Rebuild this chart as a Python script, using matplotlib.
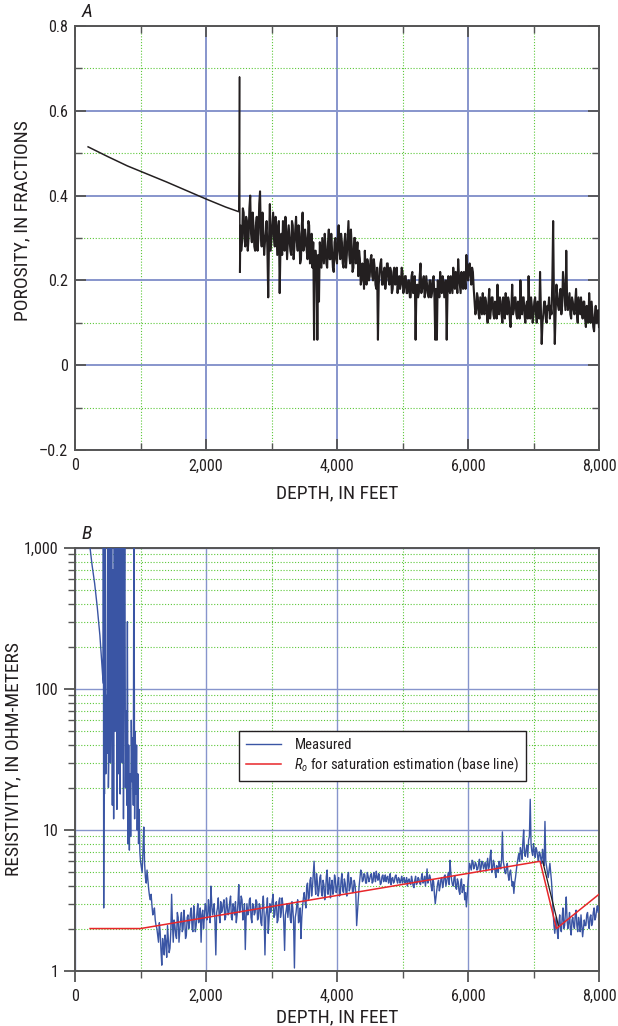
import numpy as np
import matplotlib
matplotlib.use("Agg")
import matplotlib.pyplot as plt
from matplotlib import font_manager
from matplotlib.ticker import FixedLocator, FixedFormatter, NullFormatter

# ---------------- data ----------------
# Panel A: porosity
por_depth_upper = [200, 500, 800, 1100, 1400, 1700, 2000, 2300, 2500, 2508, 2512, 2518]
por_upper = [0.515, 0.492, 0.470, 0.451, 0.432, 0.412, 0.392, 0.373, 0.362, 0.52, 0.68, 0.22]
por_depth_log = np.arange(2525, 8001, 25)
por_log = [
    0.33, 0.29, 0.36, 0.28, 0.34, 0.30, 0.40, 0.29, 0.33, 0.27,
    0.35, 0.30, 0.41, 0.28, 0.32, 0.29, 0.34, 0.16, 0.38, 0.30,
    0.36, 0.28, 0.33, 0.30, 0.17, 0.31, 0.34, 0.27, 0.32, 0.29,
    0.30, 0.26, 0.33, 0.28, 0.35, 0.27, 0.31, 0.25, 0.36, 0.28,
    0.30, 0.25, 0.33, 0.27, 0.23, 0.06, 0.27, 0.06, 0.15, 0.26,
    0.30, 0.24, 0.28, 0.23, 0.32, 0.25, 0.27, 0.22, 0.30, 0.24,
    0.33, 0.25, 0.29, 0.23, 0.31, 0.26, 0.34, 0.24, 0.28, 0.23,
    0.30, 0.26, 0.21, 0.25, 0.20, 0.23, 0.27, 0.19, 0.24, 0.21,
    0.26, 0.20, 0.23, 0.18, 0.06, 0.22, 0.25, 0.19, 0.23, 0.20,
    0.24, 0.19, 0.22, 0.18, 0.23, 0.20, 0.17, 0.21, 0.19, 0.22,
    0.18, 0.21, 0.17, 0.20, 0.16, 0.22, 0.18, 0.06, 0.19, 0.17,
    0.24, 0.18, 0.21, 0.17, 0.19, 0.16, 0.20, 0.17, 0.21, 0.06,
    0.06, 0.19, 0.22, 0.17, 0.20, 0.18, 0.06, 0.21, 0.17, 0.19,
    0.23, 0.18, 0.20, 0.25, 0.19, 0.22, 0.18, 0.21, 0.26, 0.20,
    0.24, 0.19, 0.22, 0.15, 0.13, 0.16, 0.11, 0.14, 0.17, 0.12,
    0.15, 0.10, 0.18, 0.13, 0.16, 0.11, 0.14, 0.19, 0.12, 0.15,
    0.10, 0.14, 0.17, 0.12, 0.15, 0.09, 0.19, 0.13, 0.16, 0.11,
    0.14, 0.20, 0.12, 0.16, 0.10, 0.15, 0.21, 0.11, 0.14, 0.12,
    0.16, 0.10, 0.13, 0.22, 0.05, 0.12, 0.15, 0.10, 0.13, 0.11,
    0.12, 0.34, 0.05, 0.19, 0.14, 0.17, 0.12, 0.22, 0.16, 0.27,
    0.13, 0.17, 0.11, 0.15, 0.12, 0.18, 0.10, 0.14, 0.16, 0.11,
    0.15, 0.09, 0.13, 0.17, 0.10, 0.12, 0.08, 0.14, 0.11, 0.09,
]
por_depth_mid = np.arange(2537.5, 8000, 25)
por_mid = [
    0.27, 0.37, 0.30, 0.35, 0.27, 0.37, 0.31, 0.36, 0.28, 0.33,
    0.27, 0.38, 0.31, 0.36, 0.26, 0.31, 0.27, 0.30, 0.27, 0.33,
    0.30, 0.35, 0.26, 0.34, 0.28, 0.26, 0.30, 0.35, 0.25, 0.33,
    0.27, 0.34, 0.25, 0.32, 0.29, 0.33, 0.24, 0.33, 0.27, 0.32,
    0.27, 0.34, 0.24, 0.31, 0.29, 0.27, 0.24, 0.26, 0.29, 0.23,
    0.27, 0.31, 0.24, 0.29, 0.25, 0.31, 0.23, 0.29, 0.25, 0.30,
    0.27, 0.31, 0.24, 0.29, 0.23, 0.30, 0.26, 0.32, 0.22, 0.30,
    0.24, 0.29, 0.27, 0.19, 0.24, 0.18, 0.22, 0.25, 0.20, 0.25,
    0.21, 0.25, 0.19, 0.23, 0.19, 0.24, 0.19, 0.22, 0.18, 0.24,
    0.20, 0.23, 0.17, 0.22, 0.19, 0.23, 0.20, 0.18, 0.23, 0.17,
    0.21, 0.17, 0.20, 0.16, 0.21, 0.17, 0.21, 0.18, 0.16, 0.21,
    0.17, 0.20, 0.16, 0.21, 0.17, 0.20, 0.16, 0.20, 0.16, 0.18,
    0.20, 0.16, 0.19, 0.21, 0.16, 0.20, 0.17, 0.18, 0.21, 0.17,
    0.20, 0.22, 0.17, 0.21, 0.17, 0.19, 0.22, 0.18, 0.22, 0.23,
    0.21, 0.23, 0.18, 0.12, 0.17, 0.12, 0.16, 0.12, 0.13, 0.16,
    0.12, 0.15, 0.11, 0.16, 0.12, 0.15, 0.11, 0.14, 0.16, 0.12,
    0.16, 0.11, 0.13, 0.16, 0.11, 0.14, 0.12, 0.16, 0.12, 0.15,
    0.11, 0.14, 0.16, 0.12, 0.14, 0.11, 0.13, 0.16, 0.10, 0.15,
    0.12, 0.15, 0.11, 0.14, 0.10, 0.15, 0.11, 0.14, 0.16, 0.14,
    0.20, 0.15, 0.12, 0.16, 0.13, 0.18, 0.14, 0.19, 0.13, 0.16,
    0.15, 0.12, 0.16, 0.13, 0.15, 0.12, 0.16, 0.12, 0.13, 0.15,
    0.11, 0.14, 0.10, 0.13, 0.15, 0.09, 0.12, 0.10, 0.13,
]

# Panel B: resistivity (measured)
res_depth_upper = [
    200, 230, 260, 300, 340, 380, 415, 430, 433, 438,
    445, 450, 460, 470, 480, 490, 500, 510, 520, 530,
    540, 550, 560, 570, 580, 590, 600, 610, 620, 630,
    640, 650, 660, 670, 680, 690, 700, 710, 720, 730,
    740, 750, 760, 770, 780, 790, 800, 810, 820, 830,
    840, 850, 860, 870, 880, 890, 900, 910, 920, 930,
    940, 950, 960, 970, 980, 990,
]
res_upper = [
    1500, 1000, 760, 560, 380, 240, 140, 110, 3000, 2.8,
    40, 18, 3000, 25, 90, 35, 3000, 20, 45, 3000,
    30, 80, 3000, 15, 700, 12, 3000, 50, 200, 3000,
    14, 400, 3000, 25, 3000, 18, 600, 3000, 30, 3000,
    12, 250, 3000, 20, 70, 15, 300, 8, 40, 7.2,
    25, 9, 60, 22, 45, 15, 3000, 12, 50, 18,
    40, 10, 25, 8, 14, 7,
]
res_depth_log = np.arange(1000, 8001, 25)
res_log = [
    6.0, 5.0, 10.5, 4.6, 5.2, 3.8, 3.2, 2.9, 2.6, 2.3,
    2.0, 1.6, 1.9, 1.1, 1.5, 1.8, 1.25, 1.7, 1.45, 3.5,
    1.6, 2.1, 1.7, 2.4, 1.9, 2.6, 2.0, 2.3, 1.8, 2.5,
    2.2, 2.8, 1.9, 2.5, 2.1, 3.0, 2.3, 1.6, 2.7, 2.4,
    2.9, 2.4, 2.7, 4.0, 2.5, 3.0, 1.3, 2.8, 2.5, 3.1,
    2.7, 3.2, 2.4, 2.9, 2.6, 3.4, 2.3, 2.8, 3.1, 2.5,
    4.1, 2.8, 3.2, 2.5, 1.42, 3.0, 2.6, 3.3, 2.2, 2.9,
    2.6, 3.1, 2.4, 2.9, 2.1, 3.4, 1.3, 2.7, 1.85, 3.0,
    2.8, 3.5, 2.5, 3.1, 2.3, 3.3, 2.6, 2.9, 1.4, 2.7,
    2.4, 3.0, 2.2, 2.8, 1.05, 2.6, 3.2, 2.3, 1.7, 2.9,
    3.6, 2.8, 4.2, 3.3, 4.6, 3.9, 6.0, 3.5, 4.3, 3.7,
    4.8, 3.4, 4.1, 3.6, 5.2, 3.9, 3.3, 4.4, 3.7, 4.5,
    3.8, 4.6, 3.5, 4.9, 3.6, 4.2, 3.4, 5.0, 3.9, 4.3,
    3.7, 4.1, 2.1, 3.3, 4.6, 5.0, 4.4, 4.8, 4.2, 4.7,
    4.5, 4.9, 4.3, 4.7, 5.1, 4.4, 4.6, 4.2, 4.8, 4.5,
    4.3, 4.7, 4.4, 4.1, 4.6, 4.3, 4.8, 4.2, 4.5, 4.4,
    4.2, 4.6, 4.3, 4.0, 4.5, 4.1, 4.4, 3.9, 4.7, 4.2,
    4.5, 4.1, 4.9, 4.3, 4.0, 5.3, 4.4, 4.6, 3.7, 4.3,
    3.0, 3.8, 4.4, 4.0, 4.6, 4.2, 4.8, 4.3, 5.0, 6.1,
    4.4, 4.0, 4.7, 3.8, 4.3, 3.5, 4.5, 3.9, 3.2, 2.85,
    4.2, 5.8, 5.2, 6.0, 5.5, 5.7, 5.3, 6.2, 5.4, 5.9,
    5.6, 5.1, 6.3, 5.5, 7.2, 5.2, 5.8, 4.6, 5.4, 6.0,
    5.3, 9.7, 5.6, 4.9, 5.8, 4.4, 5.2, 4.0, 3.55, 4.6,
    5.8, 6.8, 7.5, 6.2, 10.0, 6.5, 7.8, 8.5, 16.5, 7.0,
    8.0, 6.4, 7.2, 6.0, 6.8, 5.8, 6.5, 11.5, 5.5, 4.6,
    5.8, 4.3, 2.6, 1.85, 2.4, 1.7, 2.5, 1.9, 2.8, 2.1,
    3.35, 2.0, 2.6, 1.8, 2.4, 2.0, 2.7, 1.9, 2.2, 2.5,
    1.75, 2.3, 2.1, 2.6, 2.0, 2.5, 2.2, 2.8, 2.4, 2.9,
    2.85,
]
res_depth_mid = np.arange(1012.5, 8000, 25)
res_mid = [
    5.5, 7.0, 5.8, 4.2, 4.4, 3.4, 3.5, 2.5, 2.8, 2.1,
    1.8, 2.2, 1.4, 1.7, 1.3, 1.6, 2.1, 1.35, 1.9, 2.2,
    2.3, 1.8, 2.6, 1.6, 2.3, 1.9, 2.7, 1.7, 2.4, 2.0,
    2.6, 2.0, 2.9, 1.9, 2.6, 2.2, 2.8, 2.5, 2.0, 3.0,
    2.3, 3.2, 2.2, 3.0, 2.7, 2.2, 2.6, 3.3, 2.2, 2.6,
    3.0, 2.3, 3.3, 2.5, 3.1, 2.4, 3.0, 2.5, 2.2, 3.0,
    2.6, 3.4, 2.3, 3.0, 2.4, 2.5, 3.2, 2.4, 3.0, 2.5,
    3.2, 2.3, 3.0, 2.2, 2.9, 2.5, 2.4, 3.3, 2.3, 2.6,
    3.2, 2.4, 3.0, 2.2, 3.1, 2.4, 3.3, 2.2, 2.5, 3.0,
    2.9, 2.3, 3.1, 2.2, 2.4, 3.0, 2.2, 2.8, 2.4, 3.3,
    3.1, 4.0, 3.2, 4.4, 3.4, 4.8, 4.2, 4.9, 3.4, 4.6,
    3.6, 4.4, 3.2, 4.7, 3.5, 4.6, 4.0, 3.5, 4.8, 3.6,
    4.3, 3.4, 4.4, 3.7, 4.5, 3.6, 4.7, 3.7, 4.6, 3.6,
    4.4, 3.5, 2.6, 4.0, 5.2, 4.3, 4.9, 4.2, 5.0, 4.3,
    4.8, 4.2, 5.0, 4.3, 4.6, 4.9, 4.1, 4.7, 4.3, 4.8,
    4.6, 4.2, 4.9, 4.5, 4.2, 4.7, 4.4, 4.6, 4.2, 4.7,
    4.5, 4.2, 4.6, 4.4, 4.2, 4.7, 4.0, 4.4, 4.1, 4.6,
    4.2, 4.6, 4.2, 4.7, 4.5, 4.2, 4.8, 4.0, 4.4, 3.5,
    3.4, 4.2, 3.7, 4.5, 3.9, 4.7, 4.0, 4.6, 4.1, 5.0,
    4.1, 4.6, 3.9, 4.5, 3.7, 4.2, 3.6, 4.1, 3.6, 3.4,
    5.0, 5.5, 6.1, 5.3, 5.9, 5.2, 5.8, 5.1, 6.0, 5.3,
    5.9, 5.7, 5.3, 6.5, 5.0, 6.1, 5.1, 5.6, 5.0, 5.5,
    6.2, 6.0, 5.0, 5.4, 4.8, 5.0, 4.5, 4.3, 4.2, 5.2,
    6.3, 6.0, 7.0, 8.2, 6.8, 7.3, 6.4, 9.0, 8.0, 6.6,
    7.0, 7.5, 6.5, 7.0, 6.2, 7.3, 5.6, 6.0, 5.0, 5.2,
    5.0, 3.4, 2.1, 2.2, 1.9, 2.2, 2.0, 2.4, 2.0, 2.6,
    2.3, 2.2, 2.0, 2.3, 2.1, 2.5, 2.1, 2.4, 1.9, 2.1,
    2.0, 2.1, 2.5, 2.2, 2.4, 2.1, 2.6, 2.3, 2.7, 2.6,
]
# Ro base line
ro_depth = [230, 1000, 7100, 7350, 8000]
ro_val = [2.0, 2.0, 6.0, 2.0, 3.5]
# short black segment
blk_depth = [7140, 7380]
blk_val = [6.0, 2.1]

x_ticks = [0, 2000, 4000, 6000, 8000]
x_labels = ["0", "2,000", "4,000", "6,000", "8,000"]
x_minor = [1000, 3000, 5000, 7000]
yA_ticks = [-0.2, 0, 0.2, 0.4, 0.6, 0.8]
yA_labels = ["\u20130.2", "0", "0.2", "0.4", "0.6", "0.8"]
yA_minor = [-0.1, 0.1, 0.3, 0.5, 0.7]
yB_ticks = [1, 10, 100, 1000]
yB_labels = ["1", "10", "100", "1,000"]

# ---------------- style ----------------
names = {f.name for f in font_manager.fontManager.ttflist}
fam = "Liberation Sans"
for cand in ["Liberation Sans Narrow", "Roboto Condensed", "Open Sans Condensed"]:
    if cand in names:
        fam = cand
        break
plt.rcParams["font.family"] = [fam, "DejaVu Sans"]
plt.rcParams["mathtext.fontset"] = "custom"
plt.rcParams["mathtext.rm"] = fam
plt.rcParams["mathtext.it"] = fam + ":italic"

SPINE = "#555555"
BLUE_GRID = "#8795cc"
GREEN_GRID = "#5cc83a"
TXT = "#231f20"
TICK_FS = 11.5
LABEL_FS = 14

fig = plt.figure(figsize=(6.18, 10.26), dpi=100)
axA = fig.add_axes([75 / 618, 1 - 450 / 1026, 524 / 618, 424 / 1026])
axB = fig.add_axes([75 / 618, 1 - 971 / 1026, 524 / 618, 423 / 1026])


def style_axes(ax, blue_lw):
    ax.set_axisbelow(True)
    for s in ax.spines.values():
        s.set_color(SPINE)
        s.set_linewidth(1.4)
    ax.grid(which="major", color=BLUE_GRID, linewidth=blue_lw, linestyle="-")
    ax.grid(which="minor", color=GREEN_GRID, linewidth=0.8, linestyle=(0, (1, 1.6)))
    ax.set_xlim(0, 8000)
    ax.xaxis.set_major_locator(FixedLocator(x_ticks))
    ax.xaxis.set_major_formatter(FixedFormatter(x_labels))
    ax.xaxis.set_minor_locator(FixedLocator(x_minor))
    ax.set_xlabel("DEPTH, IN FEET", fontsize=LABEL_FS, color=TXT, va="center")


# Panel A
por_d = np.concatenate([[por_depth_upper[-1]], por_depth_log, por_depth_mid])
por_v = np.concatenate([[por_upper[-1]], por_log, por_mid])
order = np.argsort(por_d)
axA.plot(por_depth_upper, por_upper, color=TXT, linewidth=1.1, zorder=3)
axA.plot(por_d[order], por_v[order], color=TXT, linewidth=1.5, zorder=3)
style_axes(axA, 1.4)
axA.set_ylim(-0.2, 0.8)
axA.yaxis.set_major_locator(FixedLocator(yA_ticks))
axA.yaxis.set_major_formatter(FixedFormatter(yA_labels))
axA.yaxis.set_minor_locator(FixedLocator(yA_minor))
axA.tick_params(which="both", direction="in", top=True, right=True, color=SPINE,
                labelsize=TICK_FS, labelcolor=TXT)
axA.tick_params(which="major", length=8, width=1.3)
axA.tick_params(which="minor", length=5, width=1.0)
axA.tick_params(axis="y", pad=5)
axA.tick_params(axis="x", pad=6)
axA.set_ylabel("POROSITY, IN FRACTIONS", fontsize=LABEL_FS, color=TXT, va="center")
axA.yaxis.set_label_coords(-53 / 524, 0.54)
axA.xaxis.set_label_coords(0.5, -43 / 424)
axA.text(0.013, 1.012, "A", transform=axA.transAxes, fontsize=14, style="italic",
         color=TXT, ha="left", va="bottom")

# Panel B
res_d = np.concatenate([res_depth_upper, res_depth_log, res_depth_mid])
res_v = np.concatenate([res_upper, res_log, res_mid])
order_b = np.argsort(res_d)
axB.set_yscale("log")
axB.plot(res_d[order_b], res_v[order_b], color="#3a55a4", linewidth=1.0,
         label="Measured", zorder=3)
axB.plot(blk_depth, blk_val, color=TXT, linewidth=0.9, zorder=4)
axB.plot(ro_depth, ro_val, color="#e8262a", linewidth=1.1, zorder=5,
         label=r"$R_o$ for saturation estimation (base line)")
style_axes(axB, 1.0)
axB.set_ylim(1, 1000)
axB.yaxis.set_major_locator(FixedLocator(yB_ticks))
axB.yaxis.set_major_formatter(FixedFormatter(yB_labels))
yB_minor = [m * d for d in [1, 10, 100] for m in range(2, 10)]
axB.yaxis.set_minor_locator(FixedLocator(yB_minor))
axB.yaxis.set_minor_formatter(NullFormatter())
axB.tick_params(which="both", direction="out", color=SPINE, labelsize=TICK_FS, labelcolor=TXT)
axB.tick_params(which="major", length=8, width=1.3)
axB.tick_params(which="minor", length=5, width=1.0)
axB.tick_params(axis="y", pad=4)
axB.tick_params(axis="x", pad=5)
axB.set_ylabel("RESISTIVITY, IN OHM-METERS", fontsize=LABEL_FS, color=TXT, va="center")
axB.yaxis.set_label_coords(-62 / 524, 0.5)
axB.xaxis.set_label_coords(0.5, -46 / 423)
axB.text(0.013, 1.012, "B", transform=axB.transAxes, fontsize=14, style="italic",
         color=TXT, ha="left", va="bottom")
leg = axB.legend(loc="upper left", bbox_to_anchor=(0.313, 0.567), borderaxespad=0,
                 fontsize=10.5, frameon=True, fancybox=False, framealpha=1,
                 edgecolor="#231f20", handlelength=2.4, borderpad=0.5,
                 labelspacing=0.2, handletextpad=0.9)
leg.get_frame().set_linewidth(1.0)
for t in leg.get_texts():
    t.set_color(TXT)

fig.savefig("out.png", dpi=100)
